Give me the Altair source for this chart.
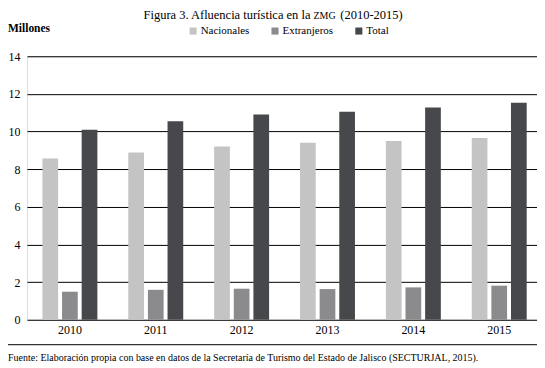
import altair as alt
import pandas as pd

years = ["2010", "2011", "2012", "2013", "2014", "2015"]
nacionales = [8.57, 8.89, 9.21, 9.40, 9.50, 9.65]
extranjeros = [1.49, 1.59, 1.65, 1.63, 1.72, 1.81]
total = [10.10, 10.54, 10.91, 11.05, 11.28, 11.53]
series = ["Nacionales", "Extranjeros", "Total"]
colors = ["#c4c4c4", "#8b8b8d", "#46484b"]
y_ticks = [0, 2, 4, 6, 8, 10, 12, 14]

rows = []
for i, yr in enumerate(years):
    for s, vals in zip(series, [nacionales, extranjeros, total]):
        rows.append({"anio": yr, "serie": s, "valor": vals[i]})
df = pd.DataFrame(rows)

FONT = "Liberation Serif"

bars = alt.Chart(df).mark_bar().encode(
    x=alt.X("anio:N", sort=years,
            scale=alt.Scale(paddingInner=0.36, align=0.6, paddingOuter=0.15),
            axis=alt.Axis(title=None, domain=False, ticks=False, labelAngle=0,
                          labelFont=FONT, labelFontSize=12, labelColor="black",
                          labelFontWeight="normal", labelPadding=5)),
    xOffset=alt.XOffset("serie:N", sort=series,
                        scale=alt.Scale(paddingInner=0.2, paddingOuter=0)),
    y=alt.Y("valor:Q", scale=alt.Scale(domain=[0, 14], nice=False),
            axis=alt.Axis(title=None, values=y_ticks, grid=True, gridColor="black",
                          gridWidth=1, gridOpacity=1, domain=False, ticks=False,
                          labelFont=FONT, labelFontSize=12, labelColor="black",
                          labelFontWeight="normal", labelPadding=7)),
    color=alt.Color("serie:N", sort=series,
                    scale=alt.Scale(domain=series, range=colors),
                    legend=alt.Legend(title=None, orient="none", direction="horizontal",
                                      legendX=161, legendY=-31, symbolType="square",
                                      symbolSize=50, symbolStrokeWidth=0,
                                      labelFont=FONT, labelFontSize=11,
                                      labelColor="black", columnPadding=20,
                                      labelOffset=2, padding=0)),
)

one = alt.Data(values=[{}])

title1 = alt.Chart(one).mark_text(font=FONT, fontSize=12.5, align="right",
                                  baseline="middle", color="black").encode(
    x=alt.value(284), y=alt.value(-41),
    text=alt.value("Figura 3. Afluencia turística en la"))
title2 = alt.Chart(one).mark_text(font=FONT, fontSize=10, align="left",
                                  baseline="middle", color="black").encode(
    x=alt.value(287), y=alt.value(-40.5),
    text=alt.value("ZMG"))
title3 = alt.Chart(one).mark_text(font=FONT, fontSize=12.5, align="left",
                                  baseline="middle", color="black").encode(
    x=alt.value(314), y=alt.value(-41),
    text=alt.value("(2010-2015)"))

millones = alt.Chart(one).mark_text(font=FONT, fontSize=11.5, fontWeight="bold",
                                    align="left", baseline="middle",
                                    color="black").encode(
    x=alt.value(-19), y=alt.value(-27), text=alt.value("Millones"))

sep = alt.Chart(one).mark_rule(color="black", strokeWidth=1).encode(
    x=alt.value(-19), x2=alt.value(513), y=alt.value(289))

fuente = alt.Chart(one).mark_text(font=FONT, fontSize=10, align="left",
                                  baseline="middle", color="black").encode(
    x=alt.value(-19), y=alt.value(302),
    text=alt.value("Fuente: Elaboración propia con base en datos de la Secretaría de "
                   "Turismo del Estado de Jalisco (SECTURJAL, 2015)."))

chart = alt.layer(bars, title1, title2, title3, millones, sep, fuente).properties(
    width=511, height=264,
    autosize=alt.AutoSizeParams(type="none"),
    padding={"left": 19, "top": 48, "right": 0, "bottom": 50},
).configure_view(stroke=None).configure(
    background="white", font=FONT
).configure_axis(labelFont=FONT).configure_legend(labelFont=FONT)

chart.save("out.html", embed_options={"renderer": "svg", "actions": False})
